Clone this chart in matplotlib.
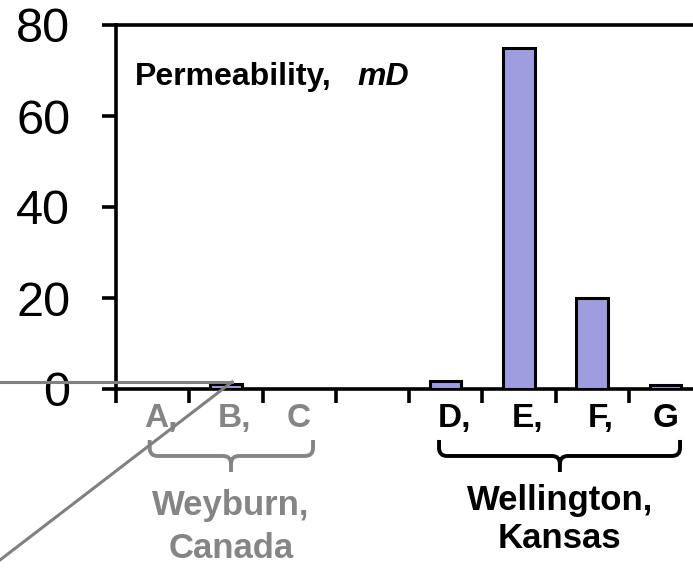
#!/usr/bin/env python3

import matplotlib.pyplot as plt
from matplotlib.lines import Line2D
from matplotlib.path import Path
from matplotlib.patches import PathPatch
from matplotlib.transforms import blended_transform_factory

plt.rcParams['font.family'] = ['Liberation Sans', 'DejaVu Sans']

# permeability (mD) per sample, slot 3 is an empty spacer
samples = ['A', 'B', 'C', '', 'D', 'E', 'F', 'G']
labels = ['A,', 'B,', 'C', '', 'D,', 'E,', 'F,', 'G']
perm = [0, 1, 0, 0, 1.8, 75, 20, 0.8]
label_colors = ['#858585'] * 4 + ['black'] * 4
yticks = [0, 20, 40, 60, 80]

W, H = 693, 569
fig = plt.figure(figsize=(W / 100, H / 100), dpi=100)
# axes runs slightly past the right edge of the figure, like the source slide
ax = fig.add_axes([116 / W, 1 - 389 / H, 586 / W, 364 / H])

x = list(range(len(samples)))
ax.bar(x, perm, width=0.43, color='#9d9ddf', edgecolor='black', linewidth=2.2, zorder=3)

ax.set_xlim(-0.5, len(samples) - 0.5)
ax.set_ylim(0, 80)
ax.set_yticks(yticks)
ax.set_yticklabels([str(v) for v in yticks], fontsize=35)
ax.set_xticks([i - 0.5 for i in range(1, len(samples) + 1)] + [-0.5])
ax.set_xticklabels([])
ax.tick_params(axis='both', direction='out', length=10, width=2.6, color='black')
ax.tick_params(axis='y', pad=23)
for side in ['left', 'bottom', 'top', 'right']:
    ax.spines[side].set_linewidth(2.6)

trans = blended_transform_factory(ax.transData, ax.transAxes)
for i, (lab, col) in enumerate(zip(labels, label_colors)):
    if not lab:
        continue
    off = 0.12 if lab.endswith(',') else 0
    ax.text(i + off, -0.104, lab, transform=trans, ha='center', va='baseline',
            fontsize=24, fontweight='bold', color=col, clip_on=False)


# curly-ish brackets under the two groups
def bracket(x0, x1, xm, color):
    yt, ym, yb = -0.140, -0.184, -0.228
    ry, rx = 0.022, 0.11
    verts = [(x0, yt), (x0, ym + ry), (x0, ym), (x0 + rx, ym),
             (xm - rx, ym), (xm, ym), (xm, ym - ry), (xm, yb),
             (xm, ym - ry), (xm, ym), (xm + rx, ym),
             (x1 - rx, ym), (x1, ym), (x1, ym + ry), (x1, yt)]
    codes = [Path.MOVETO, Path.LINETO, Path.CURVE3, Path.CURVE3,
             Path.LINETO, Path.CURVE3, Path.CURVE3, Path.LINETO,
             Path.MOVETO, Path.CURVE3, Path.CURVE3,
             Path.LINETO, Path.CURVE3, Path.CURVE3, Path.LINETO]
    ax.add_patch(PathPatch(Path(verts, codes), transform=trans, fill=False,
                           edgecolor=color, lw=2.8, clip_on=False, capstyle='butt'))


bracket(-0.04, 2.19, 1.07, '#858585')
bracket(3.91, 7.20, 5.56, 'black')

ax.text(1.07, (389 - 515) / 364, 'Weyburn,', transform=trans, ha='center', va='baseline',
        fontsize=25, fontweight='bold', color='#858585', clip_on=False)
ax.text(1.07, (389 - 558) / 364, 'Canada', transform=trans, ha='center', va='baseline',
        fontsize=25, fontweight='bold', color='#858585', clip_on=False)
ax.text(5.56, (389 - 510) / 364, 'Wellington,', transform=trans, ha='center', va='baseline',
        fontsize=25, fontweight='bold', color='black', clip_on=False)
ax.text(5.56, (389 - 548) / 364, 'Kansas', transform=trans, ha='center', va='baseline',
        fontsize=25, fontweight='bold', color='black', clip_on=False)

ax.text((135 - 116) / 586, (389 - 85) / 364, 'Permeability,', transform=ax.transAxes,
        fontsize=23, fontweight='bold', va='baseline')
ax.text((357 - 116) / 586, (389 - 85) / 364, 'mD', transform=ax.transAxes,
        fontsize=23, fontweight='bold', fontstyle='italic', va='baseline')

# grey callout lines left over from the slide
for xs, ys in [([0, 232], [382, 382]), ([0, 232], [560, 382])]:
    fig.add_artist(Line2D([v / W for v in xs], [1 - v / H for v in ys],
                          color='#808080', lw=2.2, zorder=10))

fig.savefig('out.png', dpi=100)
